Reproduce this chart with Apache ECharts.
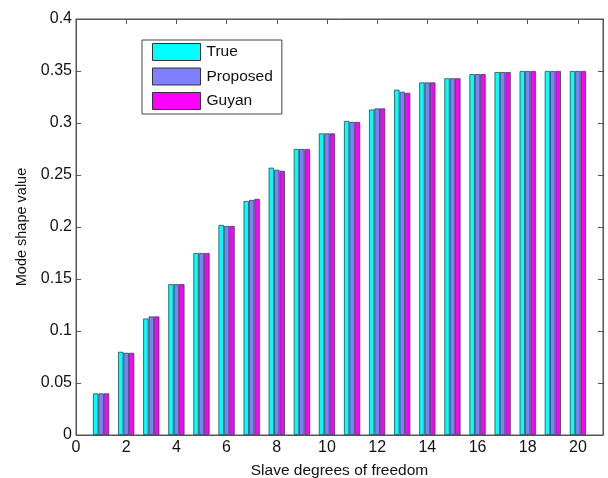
<!DOCTYPE html>
<html><head><meta charset="utf-8">
<script src="https://cdn.jsdelivr.net/npm/echarts@6/dist/echarts.min.js"></script>
<style>html,body{margin:0;padding:0;background:#fff}#c{width:608px;height:478px}</style>
</head><body><div id="c"></div>
<script>
const dofs = [1,2,3,4,5,6,7,8,9,10,11,12,13,14,15,16,17,18,19,20];
const trueVals =     [0.040,0.080,0.112,0.145,0.175,0.202,0.225,0.257,0.275,0.290,0.302,0.313,0.332,0.339,0.343,0.347,0.349,0.350,0.350,0.350];
const proposedVals = [0.040,0.079,0.114,0.145,0.175,0.201,0.226,0.255,0.275,0.290,0.301,0.314,0.330,0.339,0.343,0.347,0.349,0.350,0.350,0.350];
const guyanVals =    [0.040,0.079,0.114,0.145,0.175,0.201,0.227,0.254,0.275,0.290,0.301,0.314,0.329,0.339,0.343,0.347,0.349,0.350,0.350,0.350];
const seriesNames = ['True','Proposed','Guyan'];
const colors = ['#00FFFF','#8080FF','#FF00FF'];

const font = 'Liberation Sans, Arial, sans-serif';
const chart = echarts.init(document.getElementById('c'), null, {renderer:'canvas'});
const axisLine = {show:true, onZero:false, lineStyle:{color:'#555', width:1}};
const tick = {show:true, inside:true, length:5, lineStyle:{color:'#555'}};
const mk = (vals,i) => ({
  name: seriesNames[i], type:'bar', xAxisIndex:0, yAxisIndex:0,
  data: dofs.map((d,k)=>[d, vals[k]]),
  barWidth: 5.4, barGap: '0%',
  itemStyle:{color:colors[i], borderColor:'#2a4a4a', borderWidth:0.8},
  emphasis:{disabled:true}
});
chart.setOption({
  animation:false,
  grid:{left:76, right:5, top:19, bottom:43, containLabel:false, outerBoundsMode:'none',
    show:true, borderColor:'#555', borderWidth:1, backgroundColor:'transparent'},
  legend:{
    left:142, top:40, orient:'vertical', itemWidth:48, itemHeight:17, itemGap:6.5,
    padding:[3,9,4,10], borderColor:'#444', borderWidth:1, backgroundColor:'#fff',
    textStyle:{fontFamily:font, fontSize:15.5, color:'#111', padding:[0,0,0,1]},
    data: seriesNames, icon:'rect',
    itemStyle:{borderColor:'#333', borderWidth:1}
  },
  xAxis:[{
    type:'value', min:0, max:21, interval:2, position:'bottom',
    axisLine, axisTick:tick,
    axisLabel:{fontFamily:font, fontSize:16, color:'#111', margin:5, showMaxLabel:false},
    splitLine:{show:false},
    name:'Slave degrees of freedom', nameLocation:'middle', nameGap:28,
    nameTextStyle:{fontFamily:font, fontSize:15.5, color:'#111'}
  },{
    type:'value', min:0, max:21, interval:2, position:'top',
    axisLine, axisTick:tick,
    axisLabel:{show:false}, splitLine:{show:false}
  }],
  yAxis:[{
    type:'value', min:0, max:0.4, interval:0.05, position:'left',
    axisLine, axisTick:tick,
    axisLabel:{fontFamily:font, fontSize:16, color:'#111', margin:4,
      formatter:v=>String(+v.toFixed(2))},
    splitLine:{show:false},
    name:'Mode shape value', nameLocation:'middle', nameGap:47,
    nameTextStyle:{fontFamily:font, fontSize:14.5, color:'#111'}
  },{
    type:'value', min:0, max:0.4, interval:0.05, position:'right',
    axisLine, axisTick:tick,
    axisLabel:{show:false}, splitLine:{show:false}
  }],
  series:[mk(trueVals,0), mk(proposedVals,1), mk(guyanVals,2),
    {type:'line', xAxisIndex:1, yAxisIndex:1, data:[[0,0]], symbol:'none', lineStyle:{opacity:0}, silent:true}]
});
</script></body></html>
